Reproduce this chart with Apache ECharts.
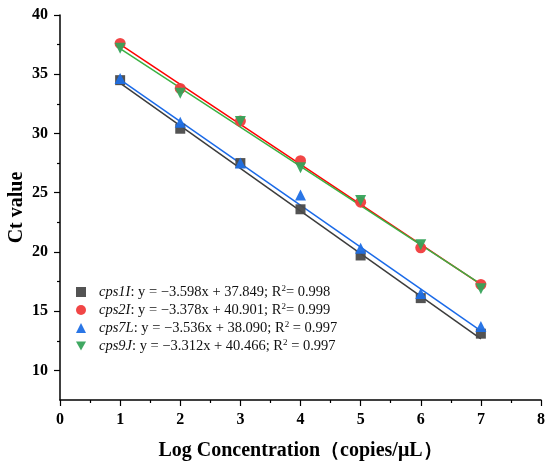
<!DOCTYPE html>
<html>
<head>
<meta charset="utf-8">
<script src="https://cdn.jsdelivr.net/npm/echarts@6/dist/echarts.min.js"></script>
<style>
  html, body { margin: 0; padding: 0; background: #fff; }
  #chart { width: 550px; height: 473px; }
</style>
</head>
<body>
<div id="chart"></div>
<script>
// log concentration (x)
var logConc = [1, 2, 3, 4, 5, 6, 7]

// Ct values
var cps1I = [34.5, 30.4, 27.5, 23.6, 19.7, 16.1, 13.1]
var cps2I = [37.6, 33.8, 31.05, 27.7, 24.2, 20.35, 17.25]
var cps7L = [34.65, 30.95, 27.5, 24.8, 20.3, 16.5, 13.7]
var cps9J = [37.2, 33.4, 31.0, 27.1, 24.35, 20.6, 16.9]

// fit equations shown in the legend
var geneNames = ['cps1I', 'cps2I', 'cps7L', 'cps9J']
var slopes = ['−3.598', '−3.378', '−3.536', '−3.312']
var intercepts = ['37.849', '40.901', '38.090', '40.466']
var r2Text = ['R{s|2}= 0.998', 'R{s|2}= 0.999', 'R{s|2} = 0.997', 'R{s|2} = 0.997']

var yTickLabels = [10, 15, 20, 25, 30, 35, 40]
var yMinorTicks = [12.5, 17.5, 22.5, 27.5, 32.5, 37.5]

var values = [cps1I, cps2I, cps7L, cps9J]
var markerColors = ['#4a4a4a', '#f03c3c', '#1f6fe5', '#36a35a']
var lineColors = ['#3c3c3c', '#ff0000', '#1a6ae8', '#3cb043']
var symbols = ['rect', 'circle', 'triangle', 'path://M0,0 L10,0 L5,9 Z']

var font = 'Liberation Serif, Times New Roman, serif'

var series = []
for (var i = 0; i < geneNames.length; i++) {
  var pts = []
  for (var k = 0; k < logConc.length; k++) {
    pts.push([logConc[k], values[i][k]])
  }
  // fitted line between first and last x, from the printed equation
  var a = parseFloat(slopes[i].replace('−', '-'))
  var b = parseFloat(intercepts[i])
  var x0 = logConc[0], x1 = logConc[logConc.length - 1]
  series.push({
    name: geneNames[i] + '_fit',
    type: 'line',
    data: [[x0, a * x0 + b], [x1, a * x1 + b]],
    symbol: 'none',
    silent: true,
    z: 2,
    lineStyle: { color: lineColors[i], width: 1.5 }
  })
  series.push({
    name: geneNames[i],
    type: 'scatter',
    data: pts,
    symbol: symbols[i],
    symbolSize: i === 0 ? 10 : 11,
    z: 3,
    itemStyle: { color: markerColors[i], opacity: 0.95 }
  })
}

var chart = echarts.init(document.getElementById('chart'))
chart.setOption({
  backgroundColor: '#fff',
  animation: false,
  grid: { left: 60, right: 9, top: 15, bottom: 73, containLabel: false, outerBoundsMode: 'none' },
  legend: {
    data: geneNames,
    orient: 'vertical',
    left: 71,
    top: 279,
    itemWidth: 10,
    itemHeight: 10,
    itemGap: 2.5,
    formatter: function (name) {
      var i = geneNames.indexOf(name)
      return '{i|' + name + '}: y = ' + slopes[i] + 'x + ' + intercepts[i] + '; ' + r2Text[i]
    },
    textStyle: {
      fontFamily: font,
      fontSize: 14.5,
      color: '#111',
      padding: [0, 0, 0, 8],
      rich: {
        i: { fontFamily: font, fontSize: 14.5, fontStyle: 'italic', color: '#111' },
        s: { fontFamily: font, fontSize: 9, color: '#111', padding: [0, 0, 7, 0] }
      }
    }
  },
  xAxis: {
    type: 'value',
    min: 0,
    max: 8,
    interval: 1,
    name: 'Log Concentration（copies/μL）',
    nameLocation: 'middle',
    nameGap: 41,
    nameMoveOverlap: false,
    nameTextStyle: { fontFamily: font, fontSize: 20, fontWeight: 'bold', color: '#000' },
    axisLine: { show: true, onZero: false, lineStyle: { color: '#000', width: 1.5 } },
    axisTick: { show: true, inside: false, length: 6, lineStyle: { color: '#000', width: 1.2 } },
    minorTick: { show: true, splitNumber: 2, length: 3, lineStyle: { color: '#000', width: 1.2 } },
    axisLabel: { fontFamily: font, fontSize: 16, fontWeight: 'bold', color: '#000', margin: 12 },
    splitLine: { show: false }
  },
  yAxis: [{
    type: 'value',
    min: 7.5,
    max: 40,
    interval: 2.5,
    name: 'Ct value',
    nameLocation: 'middle',
    nameGap: 33,
    nameMoveOverlap: false,
    nameTextStyle: { fontFamily: font, fontSize: 20, fontWeight: 'bold', color: '#000' },
    axisLine: { show: true, onZero: false, lineStyle: { color: '#000', width: 1.5 } },
    axisTick: { show: true, length: 6, customValues: yTickLabels, lineStyle: { color: '#000', width: 1.2 } },
    axisLabel: { customValues: yTickLabels, fontFamily: font, fontSize: 16, fontWeight: 'bold', color: '#000', margin: 12 },
    splitLine: { show: false }
  }, {
    type: 'value',
    position: 'left',
    min: 7.5,
    max: 40,
    interval: 2.5,
    axisLine: { show: false },
    axisTick: { show: true, length: 3, customValues: yMinorTicks, lineStyle: { color: '#000', width: 1.2 } },
    axisLabel: { show: false },
    splitLine: { show: false }
  }],
  series: series
})
</script>
</body>
</html>
